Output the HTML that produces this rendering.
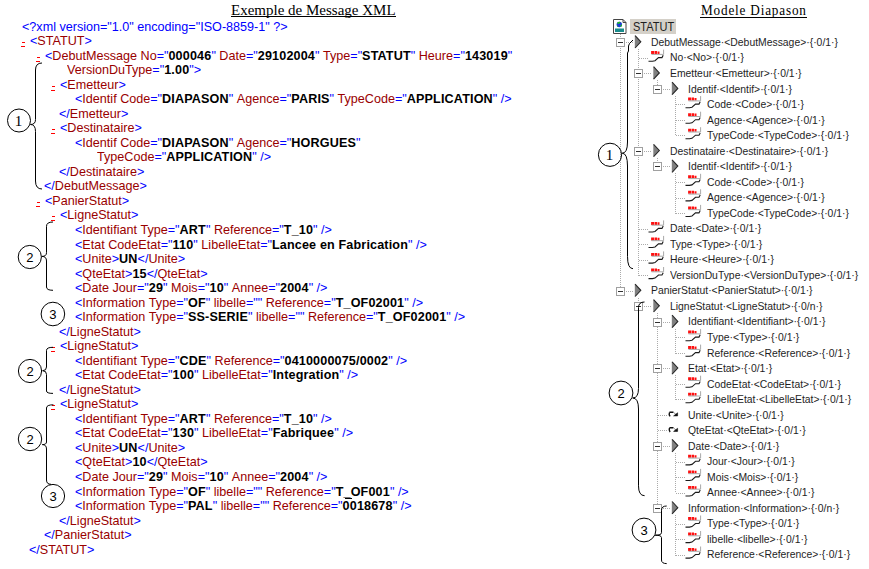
<!DOCTYPE html>
<html><head><meta charset="utf-8">
<style>
html,body{margin:0;padding:0;background:#fff;}
body{width:869px;height:569px;overflow:hidden;position:relative;font-family:"Liberation Sans",sans-serif;}
.ln{position:absolute;white-space:pre;font-size:13.4px;line-height:0;transform:scaleX(0.94);transform-origin:0 0;}
.ln span{display:inline-block;line-height:0}
.m{color:#0000ff}.t{color:#990000}.b{font-weight:bold;color:#000;letter-spacing:0.16px}.k{color:#000}
.mk{position:absolute;width:4px;height:5px;}
.mk:before{content:"";position:absolute;left:1px;top:0;width:3px;height:1px;background:#f00}
.mk:after{content:"";position:absolute;left:0;top:4px;width:4px;height:1px;background:#f00}
.title{position:absolute;font-family:"Liberation Serif",serif;font-size:15px;line-height:0;white-space:pre;}
.title u{text-decoration:none;border-bottom:1px solid #000;}
.tn{position:absolute;white-space:pre;font-size:11.8px;line-height:0;color:#1e1e1e;transform:scaleX(0.88);transform-origin:0 0;}
.sel{position:absolute;background:#d4d0c8}
svg{position:absolute;left:0;top:0}
</style></head><body>
<div class="title" style="left:231px;top:10px">Exemple de Message XML</div>
<div style="position:absolute;left:231px;top:16px;width:165px;height:1px;background:#000"></div>
<div class="title" style="left:701px;top:10px;letter-spacing:0.93px;transform:scaleX(0.88);transform-origin:0 0">Modele Diapason</div>
<div style="position:absolute;left:700px;top:17px;width:107px;height:1px;background:#000"></div>
<div class="ln" style="left:22.0px;top:26.96px"><span class="m">&lt;?xml version="1.0" encoding="ISO-8859-1" ?&gt;</span></div>
<div class="ln" style="left:30.0px;top:40.96px"><span class="m">&lt;</span><span class="t">STATUT</span><span class="m">&gt;</span></div>
<div class="mk" style="left:21px;top:42px"></div>
<div class="ln" style="left:45.0px;top:55.96px"><span class="m">&lt;</span><span class="t">DebutMessage</span><span class="k"> </span><span class="t">No</span><span class="m">="</span><span class="b">000046</span><span class="m">"</span><span class="k"> </span><span class="t">Date</span><span class="m">="</span><span class="b">29102004</span><span class="m">"</span><span class="k"> </span><span class="t">Type</span><span class="m">="</span><span class="b">STATUT</span><span class="m">"</span><span class="k"> </span><span class="t">Heure</span><span class="m">="</span><span class="b">143019</span><span class="m">"</span></div>
<div class="mk" style="left:36px;top:57px"></div>
<div class="ln" style="left:67.0px;top:69.96px"><span class="t">VersionDuType</span><span class="m">="</span><span class="b">1.00</span><span class="m">"</span><span class="m">&gt;</span></div>
<div class="ln" style="left:60.0px;top:84.96px"><span class="m">&lt;</span><span class="t">Emetteur</span><span class="m">&gt;</span></div>
<div class="mk" style="left:51px;top:86px"></div>
<div class="ln" style="left:75.0px;top:98.96px"><span class="m">&lt;</span><span class="t">Identif</span><span class="k"> </span><span class="t">Code</span><span class="m">="</span><span class="b">DIAPASON</span><span class="m">"</span><span class="k"> </span><span class="t">Agence</span><span class="m">="</span><span class="b">PARIS</span><span class="m">"</span><span class="k"> </span><span class="t">TypeCode</span><span class="m">="</span><span class="b">APPLICATION</span><span class="m">"</span><span class="k"> </span><span class="m">/&gt;</span></div>
<div class="ln" style="left:59.0px;top:113.96px"><span class="m">&lt;/</span><span class="t">Emetteur</span><span class="m">&gt;</span></div>
<div class="ln" style="left:60.0px;top:127.96px"><span class="m">&lt;</span><span class="t">Destinataire</span><span class="m">&gt;</span></div>
<div class="mk" style="left:51px;top:129px"></div>
<div class="ln" style="left:75.0px;top:142.96px"><span class="m">&lt;</span><span class="t">Identif</span><span class="k"> </span><span class="t">Code</span><span class="m">="</span><span class="b">DIAPASON</span><span class="m">"</span><span class="k"> </span><span class="t">Agence</span><span class="m">="</span><span class="b">HORGUES</span><span class="m">"</span></div>
<div class="ln" style="left:97.0px;top:156.96px"><span class="t">TypeCode</span><span class="m">="</span><span class="b">APPLICATION</span><span class="m">"</span><span class="k"> </span><span class="m">/&gt;</span></div>
<div class="ln" style="left:59.0px;top:171.96px"><span class="m">&lt;/</span><span class="t">Destinataire</span><span class="m">&gt;</span></div>
<div class="ln" style="left:44.0px;top:185.96px"><span class="m">&lt;/</span><span class="t">DebutMessage</span><span class="m">&gt;</span></div>
<div class="ln" style="left:45.0px;top:200.96px"><span class="m">&lt;</span><span class="t">PanierStatut</span><span class="m">&gt;</span></div>
<div class="mk" style="left:36px;top:202px"></div>
<div class="ln" style="left:60.0px;top:214.96px"><span class="m">&lt;</span><span class="t">LigneStatut</span><span class="m">&gt;</span></div>
<div class="mk" style="left:51px;top:216px"></div>
<div class="ln" style="left:75.0px;top:229.96px"><span class="m">&lt;</span><span class="t">Identifiant</span><span class="k"> </span><span class="t">Type</span><span class="m">="</span><span class="b">ART</span><span class="m">"</span><span class="k"> </span><span class="t">Reference</span><span class="m">="</span><span class="b">T_10</span><span class="m">"</span><span class="k"> </span><span class="m">/&gt;</span></div>
<div class="ln" style="left:75.0px;top:244.96px"><span class="m">&lt;</span><span class="t">Etat</span><span class="k"> </span><span class="t">CodeEtat</span><span class="m">="</span><span class="b">110</span><span class="m">"</span><span class="k"> </span><span class="t">LibelleEtat</span><span class="m">="</span><span class="b">Lancee en Fabrication</span><span class="m">"</span><span class="k"> </span><span class="m">/&gt;</span></div>
<div class="ln" style="left:75.0px;top:258.96px"><span class="m">&lt;</span><span class="t">Unite</span><span class="m">&gt;</span><span class="b">UN</span><span class="m">&lt;/</span><span class="t">Unite</span><span class="m">&gt;</span></div>
<div class="ln" style="left:75.0px;top:273.96px"><span class="m">&lt;</span><span class="t">QteEtat</span><span class="m">&gt;</span><span class="b">15</span><span class="m">&lt;/</span><span class="t">QteEtat</span><span class="m">&gt;</span></div>
<div class="ln" style="left:75.0px;top:287.96px"><span class="m">&lt;</span><span class="t">Date</span><span class="k"> </span><span class="t">Jour</span><span class="m">="</span><span class="b">29</span><span class="m">"</span><span class="k"> </span><span class="t">Mois</span><span class="m">="</span><span class="b">10</span><span class="m">"</span><span class="k"> </span><span class="t">Annee</span><span class="m">="</span><span class="b">2004</span><span class="m">"</span><span class="k"> </span><span class="m">/&gt;</span></div>
<div class="ln" style="left:75.0px;top:302.96px"><span class="m">&lt;</span><span class="t">Information</span><span class="k"> </span><span class="t">Type</span><span class="m">="</span><span class="b">OF</span><span class="m">"</span><span class="k"> </span><span class="t">libelle</span><span class="m">="</span><span class="m">"</span><span class="k"> </span><span class="t">Reference</span><span class="m">="</span><span class="b">T_OF02001</span><span class="m">"</span><span class="k"> </span><span class="m">/&gt;</span></div>
<div class="ln" style="left:75.0px;top:316.96px"><span class="m">&lt;</span><span class="t">Information</span><span class="k"> </span><span class="t">Type</span><span class="m">="</span><span class="b">SS-SERIE</span><span class="m">"</span><span class="k"> </span><span class="t">libelle</span><span class="m">="</span><span class="m">"</span><span class="k"> </span><span class="t">Reference</span><span class="m">="</span><span class="b">T_OF02001</span><span class="m">"</span><span class="k"> </span><span class="m">/&gt;</span></div>
<div class="ln" style="left:59.0px;top:331.96px"><span class="m">&lt;/</span><span class="t">LigneStatut</span><span class="m">&gt;</span></div>
<div class="ln" style="left:60.0px;top:345.96px"><span class="m">&lt;</span><span class="t">LigneStatut</span><span class="m">&gt;</span></div>
<div class="mk" style="left:51px;top:347px"></div>
<div class="ln" style="left:75.0px;top:360.96px"><span class="m">&lt;</span><span class="t">Identifiant</span><span class="k"> </span><span class="t">Type</span><span class="m">="</span><span class="b">CDE</span><span class="m">"</span><span class="k"> </span><span class="t">Reference</span><span class="m">="</span><span class="b">0410000075/0002</span><span class="m">"</span><span class="k"> </span><span class="m">/&gt;</span></div>
<div class="ln" style="left:75.0px;top:374.96px"><span class="m">&lt;</span><span class="t">Etat</span><span class="k"> </span><span class="t">CodeEtat</span><span class="m">="</span><span class="b">100</span><span class="m">"</span><span class="k"> </span><span class="t">LibelleEtat</span><span class="m">="</span><span class="b">Integration</span><span class="m">"</span><span class="k"> </span><span class="m">/&gt;</span></div>
<div class="ln" style="left:59.0px;top:389.96px"><span class="m">&lt;/</span><span class="t">LigneStatut</span><span class="m">&gt;</span></div>
<div class="ln" style="left:60.0px;top:403.96px"><span class="m">&lt;</span><span class="t">LigneStatut</span><span class="m">&gt;</span></div>
<div class="mk" style="left:51px;top:405px"></div>
<div class="ln" style="left:75.0px;top:418.96px"><span class="m">&lt;</span><span class="t">Identifiant</span><span class="k"> </span><span class="t">Type</span><span class="m">="</span><span class="b">ART</span><span class="m">"</span><span class="k"> </span><span class="t">Reference</span><span class="m">="</span><span class="b">T_10</span><span class="m">"</span><span class="k"> </span><span class="m">/&gt;</span></div>
<div class="ln" style="left:75.0px;top:432.96px"><span class="m">&lt;</span><span class="t">Etat</span><span class="k"> </span><span class="t">CodeEtat</span><span class="m">="</span><span class="b">130</span><span class="m">"</span><span class="k"> </span><span class="t">LibelleEtat</span><span class="m">="</span><span class="b">Fabriquee</span><span class="m">"</span><span class="k"> </span><span class="m">/&gt;</span></div>
<div class="ln" style="left:75.0px;top:447.96px"><span class="m">&lt;</span><span class="t">Unite</span><span class="m">&gt;</span><span class="b">UN</span><span class="m">&lt;/</span><span class="t">Unite</span><span class="m">&gt;</span></div>
<div class="ln" style="left:75.0px;top:461.96px"><span class="m">&lt;</span><span class="t">QteEtat</span><span class="m">&gt;</span><span class="b">10</span><span class="m">&lt;/</span><span class="t">QteEtat</span><span class="m">&gt;</span></div>
<div class="ln" style="left:75.0px;top:476.96px"><span class="m">&lt;</span><span class="t">Date</span><span class="k"> </span><span class="t">Jour</span><span class="m">="</span><span class="b">29</span><span class="m">"</span><span class="k"> </span><span class="t">Mois</span><span class="m">="</span><span class="b">10</span><span class="m">"</span><span class="k"> </span><span class="t">Annee</span><span class="m">="</span><span class="b">2004</span><span class="m">"</span><span class="k"> </span><span class="m">/&gt;</span></div>
<div class="ln" style="left:75.0px;top:491.96px"><span class="m">&lt;</span><span class="t">Information</span><span class="k"> </span><span class="t">Type</span><span class="m">="</span><span class="b">OF</span><span class="m">"</span><span class="k"> </span><span class="t">libelle</span><span class="m">="</span><span class="m">"</span><span class="k"> </span><span class="t">Reference</span><span class="m">="</span><span class="b">T_OF001</span><span class="m">"</span><span class="k"> </span><span class="m">/&gt;</span></div>
<div class="ln" style="left:75.0px;top:505.96px"><span class="m">&lt;</span><span class="t">Information</span><span class="k"> </span><span class="t">Type</span><span class="m">="</span><span class="b">PAL</span><span class="m">"</span><span class="k"> </span><span class="t">libelle</span><span class="m">="</span><span class="m">"</span><span class="k"> </span><span class="t">Reference</span><span class="m">="</span><span class="b">0018678</span><span class="m">"</span><span class="k"> </span><span class="m">/&gt;</span></div>
<div class="ln" style="left:59.0px;top:520.96px"><span class="m">&lt;/</span><span class="t">LigneStatut</span><span class="m">&gt;</span></div>
<div class="ln" style="left:44.0px;top:534.96px"><span class="m">&lt;/</span><span class="t">PanierStatut</span><span class="m">&gt;</span></div>
<div class="ln" style="left:29.0px;top:549.96px"><span class="m">&lt;/</span><span class="t">STATUT</span><span class="m">&gt;</span></div>
<div style="position:absolute;left:345px;top:498px;width:7px;height:1px;background:#000"></div>
<div class="sel" style="left:630px;top:19px;width:46px;height:15px"></div>
<div class="tn" style="left:632.5px;top:26.67px;font-size:12.5px;transform:scaleX(0.88)">STATUT</div>
<div class="tn" style="left:651.0px;top:41.94px">DebutMessage·&lt;DebutMessage&gt;·{·0/1·}</div>
<div class="tn" style="left:669.5px;top:57.47px">No·&lt;No&gt;·{·0/1·}</div>
<div class="tn" style="left:669.5px;top:73.00px">Emetteur·&lt;Emetteur&gt;·{·0/1·}</div>
<div class="tn" style="left:688.0px;top:88.53px">Identif·&lt;Identif&gt;·{·0/1·}</div>
<div class="tn" style="left:706.5px;top:104.06px">Code·&lt;Code&gt;·{·0/1·}</div>
<div class="tn" style="left:706.5px;top:119.59px">Agence·&lt;Agence&gt;·{·0/1·}</div>
<div class="tn" style="left:706.5px;top:135.12px">TypeCode·&lt;TypeCode&gt;·{·0/1·}</div>
<div class="tn" style="left:669.5px;top:150.65px">Destinataire·&lt;Destinataire&gt;·{·0/1·}</div>
<div class="tn" style="left:688.0px;top:166.18px">Identif·&lt;Identif&gt;·{·0/1·}</div>
<div class="tn" style="left:706.5px;top:181.71px">Code·&lt;Code&gt;·{·0/1·}</div>
<div class="tn" style="left:706.5px;top:197.24px">Agence·&lt;Agence&gt;·{·0/1·}</div>
<div class="tn" style="left:706.5px;top:212.77px">TypeCode·&lt;TypeCode&gt;·{·0/1·}</div>
<div class="tn" style="left:669.5px;top:228.30px">Date·&lt;Date&gt;·{·0/1·}</div>
<div class="tn" style="left:669.5px;top:243.83px">Type·&lt;Type&gt;·{·0/1·}</div>
<div class="tn" style="left:669.5px;top:259.36px">Heure·&lt;Heure&gt;·{·0/1·}</div>
<div class="tn" style="left:669.5px;top:274.89px">VersionDuType·&lt;VersionDuType&gt;·{·0/1·}</div>
<div class="tn" style="left:651.0px;top:290.42px">PanierStatut·&lt;PanierStatut&gt;·{·0/1·}</div>
<div class="tn" style="left:669.5px;top:305.95px">LigneStatut·&lt;LigneStatut&gt;·{·0/n·}</div>
<div class="tn" style="left:688.0px;top:321.48px">Identifiant·&lt;Identifiant&gt;·{·0/1·}</div>
<div class="tn" style="left:706.5px;top:337.01px">Type·&lt;Type&gt;·{·0/1·}</div>
<div class="tn" style="left:706.5px;top:352.54px">Reference·&lt;Reference&gt;·{·0/1·}</div>
<div class="tn" style="left:688.0px;top:368.07px">Etat·&lt;Etat&gt;·{·0/1·}</div>
<div class="tn" style="left:706.5px;top:383.60px">CodeEtat·&lt;CodeEtat&gt;·{·0/1·}</div>
<div class="tn" style="left:706.5px;top:399.13px">LibelleEtat·&lt;LibelleEtat&gt;·{·0/1·}</div>
<div class="tn" style="left:688.0px;top:414.66px">Unite·&lt;Unite&gt;·{·0/1·}</div>
<div class="tn" style="left:688.0px;top:430.19px">QteEtat·&lt;QteEtat&gt;·{·0/1·}</div>
<div class="tn" style="left:688.0px;top:445.72px">Date·&lt;Date&gt;·{·0/1·}</div>
<div class="tn" style="left:706.5px;top:461.25px">Jour·&lt;Jour&gt;·{·0/1·}</div>
<div class="tn" style="left:706.5px;top:476.78px">Mois·&lt;Mois&gt;·{·0/1·}</div>
<div class="tn" style="left:706.5px;top:492.31px">Annee·&lt;Annee&gt;·{·0/1·}</div>
<div class="tn" style="left:688.0px;top:507.84px">Information·&lt;Information&gt;·{·0/n·}</div>
<div class="tn" style="left:706.5px;top:523.37px">Type·&lt;Type&gt;·{·0/1·}</div>
<div class="tn" style="left:706.5px;top:538.90px">libelle·&lt;libelle&gt;·{·0/1·}</div>
<div class="tn" style="left:706.5px;top:554.43px">Reference·&lt;Reference&gt;·{·0/1·}</div>
<svg width="869" height="569" viewBox="0 0 869 569">
<g shape-rendering="crispEdges"><path d="M620.5 34V292" stroke="#ababab" stroke-dasharray="1 1"/>
<path d="M638.5 49V276" stroke="#ababab" stroke-dasharray="1 1"/>
<path d="M657.5 80V90" stroke="#ababab" stroke-dasharray="1 1"/>
<path d="M675.5 96V136" stroke="#ababab" stroke-dasharray="1 1"/>
<path d="M657.5 158V167" stroke="#ababab" stroke-dasharray="1 1"/>
<path d="M675.5 173V214" stroke="#ababab" stroke-dasharray="1 1"/>
<path d="M638.5 298V307" stroke="#ababab" stroke-dasharray="1 1"/>
<path d="M657.5 313V509" stroke="#ababab" stroke-dasharray="1 1"/>
<path d="M675.5 329V354" stroke="#ababab" stroke-dasharray="1 1"/>
<path d="M675.5 375V400" stroke="#ababab" stroke-dasharray="1 1"/>
<path d="M675.5 453V493" stroke="#ababab" stroke-dasharray="1 1"/>
<path d="M675.5 515V556" stroke="#ababab" stroke-dasharray="1 1"/>
<path d="M626 42.5H634" stroke="#ababab" stroke-dasharray="1 1"/>
<path d="M639 58.5H648" stroke="#ababab" stroke-dasharray="1 1"/>
<path d="M644 73.5H652" stroke="#ababab" stroke-dasharray="1 1"/>
<path d="M663 89.5H671" stroke="#ababab" stroke-dasharray="1 1"/>
<path d="M676 104.5H685" stroke="#ababab" stroke-dasharray="1 1"/>
<path d="M676 120.5H685" stroke="#ababab" stroke-dasharray="1 1"/>
<path d="M676 135.5H685" stroke="#ababab" stroke-dasharray="1 1"/>
<path d="M644 151.5H652" stroke="#ababab" stroke-dasharray="1 1"/>
<path d="M663 166.5H671" stroke="#ababab" stroke-dasharray="1 1"/>
<path d="M676 182.5H685" stroke="#ababab" stroke-dasharray="1 1"/>
<path d="M676 198.5H685" stroke="#ababab" stroke-dasharray="1 1"/>
<path d="M676 213.5H685" stroke="#ababab" stroke-dasharray="1 1"/>
<path d="M639 229.5H648" stroke="#ababab" stroke-dasharray="1 1"/>
<path d="M639 244.5H648" stroke="#ababab" stroke-dasharray="1 1"/>
<path d="M639 260.5H648" stroke="#ababab" stroke-dasharray="1 1"/>
<path d="M639 275.5H648" stroke="#ababab" stroke-dasharray="1 1"/>
<path d="M626 291.5H634" stroke="#ababab" stroke-dasharray="1 1"/>
<path d="M644 306.5H652" stroke="#ababab" stroke-dasharray="1 1"/>
<path d="M663 322.5H671" stroke="#ababab" stroke-dasharray="1 1"/>
<path d="M676 337.5H685" stroke="#ababab" stroke-dasharray="1 1"/>
<path d="M676 353.5H685" stroke="#ababab" stroke-dasharray="1 1"/>
<path d="M663 368.5H671" stroke="#ababab" stroke-dasharray="1 1"/>
<path d="M676 384.5H685" stroke="#ababab" stroke-dasharray="1 1"/>
<path d="M676 399.5H685" stroke="#ababab" stroke-dasharray="1 1"/>
<path d="M658 415.5H667" stroke="#ababab" stroke-dasharray="1 1"/>
<path d="M658 430.5H667" stroke="#ababab" stroke-dasharray="1 1"/>
<path d="M663 446.5H671" stroke="#ababab" stroke-dasharray="1 1"/>
<path d="M676 462.5H685" stroke="#ababab" stroke-dasharray="1 1"/>
<path d="M676 477.5H685" stroke="#ababab" stroke-dasharray="1 1"/>
<path d="M676 493.5H685" stroke="#ababab" stroke-dasharray="1 1"/>
<path d="M663 508.5H671" stroke="#ababab" stroke-dasharray="1 1"/>
<path d="M676 524.5H685" stroke="#ababab" stroke-dasharray="1 1"/>
<path d="M676 539.5H685" stroke="#ababab" stroke-dasharray="1 1"/>
<path d="M676 555.5H685" stroke="#ababab" stroke-dasharray="1 1"/></g>
<path d="M613.5 19.5 h9.5 l3 3 v11 h-12.5 z" fill="#fff" stroke="#444" stroke-width="1"/>
<path d="M623 19.5 v3 h3" fill="none" stroke="#444"/>
<rect x="615" y="28.5" width="9" height="3.5" fill="#1a8c8c"/>
<circle cx="619.3" cy="24.5" r="2.7" fill="#1e3cd8"/>
<path d="M617 23 q1.5 -1.6 3.5 -1 l-1 1.6 l-1.5 0.5 z M620.6 25 l1.3 -0.5 l0.2 1.6 l-1.5 1 z M617 25 l1.2 1.5 l-0.8 0.6 z" fill="#22c022"/>
<rect x="616.5" y="38.5" width="8" height="8" fill="#fff" stroke="#a0a0a0"/>
<path d="M618 42.5H623" stroke="#303030"/>
<path d="M634.8 35.3 L641.2 41.8 L634.8 48.3 Z" fill="#808080" stroke="none"/>
<path d="M635.1 35.6 L640.8 41.8 L635.1 48.0" fill="none" stroke="#2a2a2a" stroke-width="1.1"/>
<path d="M651.1 51.1h3.4v3h-3.4zM655.0 51.1h2v3h-2zM657.5 51.5h2v2.6h-2z" fill="#ff1010"/>
<path d="M651.5 54.4H663.6V49.6" fill="none" stroke="#a8a8a8" stroke-width="1"/>
<path d="M663.2 55.3 L662.0 57.6 L658.5 57.6 L655.0 60.7 L652.5 61.2 L648.5 61.2" fill="none" stroke="#1a1a1a" stroke-width="1.1"/>
<rect x="634.5" y="69.5" width="8" height="8" fill="#fff" stroke="#a0a0a0"/>
<path d="M636 73.5H641" stroke="#303030"/>
<path d="M653.3 66.4 L659.7 72.9 L653.3 79.4 Z" fill="#808080" stroke="none"/>
<path d="M653.6 66.7 L659.3 72.9 L653.6 79.1" fill="none" stroke="#2a2a2a" stroke-width="1.1"/>
<rect x="653.5" y="85.5" width="8" height="8" fill="#fff" stroke="#a0a0a0"/>
<path d="M655 89.5H660" stroke="#303030"/>
<path d="M671.8 81.9 L678.2 88.4 L671.8 94.9 Z" fill="#808080" stroke="none"/>
<path d="M672.1 82.2 L677.8 88.4 L672.1 94.6" fill="none" stroke="#2a2a2a" stroke-width="1.1"/>
<path d="M688.1 97.6h3.4v3h-3.4zM692.0 97.6h2v3h-2zM694.5 98.0h2v2.6h-2z" fill="#ff1010"/>
<path d="M688.5 100.9H700.6V96.1" fill="none" stroke="#a8a8a8" stroke-width="1"/>
<path d="M700.2 101.8 L699.0 104.1 L695.5 104.1 L692.0 107.2 L689.5 107.7 L685.5 107.7" fill="none" stroke="#1a1a1a" stroke-width="1.1"/>
<path d="M688.1 113.2h3.4v3h-3.4zM692.0 113.2h2v3h-2zM694.5 113.6h2v2.6h-2z" fill="#ff1010"/>
<path d="M688.5 116.5H700.6V111.7" fill="none" stroke="#a8a8a8" stroke-width="1"/>
<path d="M700.2 117.4 L699.0 119.7 L695.5 119.7 L692.0 122.8 L689.5 123.3 L685.5 123.3" fill="none" stroke="#1a1a1a" stroke-width="1.1"/>
<path d="M688.1 128.7h3.4v3h-3.4zM692.0 128.7h2v3h-2zM694.5 129.1h2v2.6h-2z" fill="#ff1010"/>
<path d="M688.5 132.0H700.6V127.2" fill="none" stroke="#a8a8a8" stroke-width="1"/>
<path d="M700.2 132.9 L699.0 135.2 L695.5 135.2 L692.0 138.3 L689.5 138.8 L685.5 138.8" fill="none" stroke="#1a1a1a" stroke-width="1.1"/>
<rect x="634.5" y="147.5" width="8" height="8" fill="#fff" stroke="#a0a0a0"/>
<path d="M636 151.5H641" stroke="#303030"/>
<path d="M653.3 144.0 L659.7 150.5 L653.3 157.0 Z" fill="#808080" stroke="none"/>
<path d="M653.6 144.3 L659.3 150.5 L653.6 156.7" fill="none" stroke="#2a2a2a" stroke-width="1.1"/>
<rect x="653.5" y="162.5" width="8" height="8" fill="#fff" stroke="#a0a0a0"/>
<path d="M655 166.5H660" stroke="#303030"/>
<path d="M671.8 159.6 L678.2 166.1 L671.8 172.6 Z" fill="#808080" stroke="none"/>
<path d="M672.1 159.9 L677.8 166.1 L672.1 172.3" fill="none" stroke="#2a2a2a" stroke-width="1.1"/>
<path d="M688.1 175.3h3.4v3h-3.4zM692.0 175.3h2v3h-2zM694.5 175.7h2v2.6h-2z" fill="#ff1010"/>
<path d="M688.5 178.6H700.6V173.8" fill="none" stroke="#a8a8a8" stroke-width="1"/>
<path d="M700.2 179.5 L699.0 181.8 L695.5 181.8 L692.0 184.9 L689.5 185.4 L685.5 185.4" fill="none" stroke="#1a1a1a" stroke-width="1.1"/>
<path d="M688.1 190.8h3.4v3h-3.4zM692.0 190.8h2v3h-2zM694.5 191.2h2v2.6h-2z" fill="#ff1010"/>
<path d="M688.5 194.1H700.6V189.3" fill="none" stroke="#a8a8a8" stroke-width="1"/>
<path d="M700.2 195.0 L699.0 197.3 L695.5 197.3 L692.0 200.4 L689.5 200.9 L685.5 200.9" fill="none" stroke="#1a1a1a" stroke-width="1.1"/>
<path d="M688.1 206.4h3.4v3h-3.4zM692.0 206.4h2v3h-2zM694.5 206.8h2v2.6h-2z" fill="#ff1010"/>
<path d="M688.5 209.7H700.6V204.9" fill="none" stroke="#a8a8a8" stroke-width="1"/>
<path d="M700.2 210.6 L699.0 212.9 L695.5 212.9 L692.0 216.0 L689.5 216.5 L685.5 216.5" fill="none" stroke="#1a1a1a" stroke-width="1.1"/>
<path d="M651.1 221.9h3.4v3h-3.4zM655.0 221.9h2v3h-2zM657.5 222.3h2v2.6h-2z" fill="#ff1010"/>
<path d="M651.5 225.2H663.6V220.4" fill="none" stroke="#a8a8a8" stroke-width="1"/>
<path d="M663.2 226.1 L662.0 228.4 L658.5 228.4 L655.0 231.5 L652.5 232.0 L648.5 232.0" fill="none" stroke="#1a1a1a" stroke-width="1.1"/>
<path d="M651.1 237.4h3.4v3h-3.4zM655.0 237.4h2v3h-2zM657.5 237.8h2v2.6h-2z" fill="#ff1010"/>
<path d="M651.5 240.7H663.6V235.9" fill="none" stroke="#a8a8a8" stroke-width="1"/>
<path d="M663.2 241.6 L662.0 243.9 L658.5 243.9 L655.0 247.0 L652.5 247.5 L648.5 247.5" fill="none" stroke="#1a1a1a" stroke-width="1.1"/>
<path d="M651.1 252.9h3.4v3h-3.4zM655.0 252.9h2v3h-2zM657.5 253.3h2v2.6h-2z" fill="#ff1010"/>
<path d="M651.5 256.2H663.6V251.4" fill="none" stroke="#a8a8a8" stroke-width="1"/>
<path d="M663.2 257.1 L662.0 259.4 L658.5 259.4 L655.0 262.6 L652.5 263.1 L648.5 263.1" fill="none" stroke="#1a1a1a" stroke-width="1.1"/>
<path d="M651.1 268.5h3.4v3h-3.4zM655.0 268.5h2v3h-2zM657.5 268.9h2v2.6h-2z" fill="#ff1010"/>
<path d="M651.5 271.8H663.6V267.0" fill="none" stroke="#a8a8a8" stroke-width="1"/>
<path d="M663.2 272.7 L662.0 275.0 L658.5 275.0 L655.0 278.1 L652.5 278.6 L648.5 278.6" fill="none" stroke="#1a1a1a" stroke-width="1.1"/>
<rect x="616.5" y="287.5" width="8" height="8" fill="#fff" stroke="#a0a0a0"/>
<path d="M618 291.5H623" stroke="#303030"/>
<path d="M634.8 283.8 L641.2 290.3 L634.8 296.8 Z" fill="#808080" stroke="none"/>
<path d="M635.1 284.1 L640.8 290.3 L635.1 296.5" fill="none" stroke="#2a2a2a" stroke-width="1.1"/>
<rect x="634.5" y="302.5" width="8" height="8" fill="#fff" stroke="#a0a0a0"/>
<path d="M636 306.5H641" stroke="#303030"/>
<path d="M653.3 299.3 L659.7 305.8 L653.3 312.3 Z" fill="#808080" stroke="none"/>
<path d="M653.6 299.6 L659.3 305.8 L653.6 312.0" fill="none" stroke="#2a2a2a" stroke-width="1.1"/>
<rect x="653.5" y="318.5" width="8" height="8" fill="#fff" stroke="#a0a0a0"/>
<path d="M655 322.5H660" stroke="#303030"/>
<path d="M671.8 314.9 L678.2 321.4 L671.8 327.9 Z" fill="#808080" stroke="none"/>
<path d="M672.1 315.2 L677.8 321.4 L672.1 327.6" fill="none" stroke="#2a2a2a" stroke-width="1.1"/>
<path d="M688.1 330.6h3.4v3h-3.4zM692.0 330.6h2v3h-2zM694.5 331.0h2v2.6h-2z" fill="#ff1010"/>
<path d="M688.5 333.9H700.6V329.1" fill="none" stroke="#a8a8a8" stroke-width="1"/>
<path d="M700.2 334.8 L699.0 337.1 L695.5 337.1 L692.0 340.2 L689.5 340.7 L685.5 340.7" fill="none" stroke="#1a1a1a" stroke-width="1.1"/>
<path d="M688.1 346.1h3.4v3h-3.4zM692.0 346.1h2v3h-2zM694.5 346.5h2v2.6h-2z" fill="#ff1010"/>
<path d="M688.5 349.4H700.6V344.6" fill="none" stroke="#a8a8a8" stroke-width="1"/>
<path d="M700.2 350.3 L699.0 352.6 L695.5 352.6 L692.0 355.7 L689.5 356.2 L685.5 356.2" fill="none" stroke="#1a1a1a" stroke-width="1.1"/>
<rect x="653.5" y="364.5" width="8" height="8" fill="#fff" stroke="#a0a0a0"/>
<path d="M655 368.5H660" stroke="#303030"/>
<path d="M671.8 361.5 L678.2 368.0 L671.8 374.5 Z" fill="#808080" stroke="none"/>
<path d="M672.1 361.8 L677.8 368.0 L672.1 374.2" fill="none" stroke="#2a2a2a" stroke-width="1.1"/>
<path d="M688.1 377.2h3.4v3h-3.4zM692.0 377.2h2v3h-2zM694.5 377.6h2v2.6h-2z" fill="#ff1010"/>
<path d="M688.5 380.5H700.6V375.7" fill="none" stroke="#a8a8a8" stroke-width="1"/>
<path d="M700.2 381.4 L699.0 383.7 L695.5 383.7 L692.0 386.8 L689.5 387.3 L685.5 387.3" fill="none" stroke="#1a1a1a" stroke-width="1.1"/>
<path d="M688.1 392.7h3.4v3h-3.4zM692.0 392.7h2v3h-2zM694.5 393.1h2v2.6h-2z" fill="#ff1010"/>
<path d="M688.5 396.0H700.6V391.2" fill="none" stroke="#a8a8a8" stroke-width="1"/>
<path d="M700.2 396.9 L699.0 399.2 L695.5 399.2 L692.0 402.3 L689.5 402.8 L685.5 402.8" fill="none" stroke="#1a1a1a" stroke-width="1.1"/>
<path d="M670.1 416.4 Q668.7 414.6 669.4 412.8 M669.4 412.3 H673.5" fill="none" stroke="#111" stroke-width="1.4"/>
<path d="M677.6 412.8 L677.6 415.9 L673.6 415.9 Z M674.2 412.9 L676.5 415.2" fill="#111" stroke="#111" stroke-width="0.6"/>
<path d="M670.1 432.0 Q668.7 430.1 669.4 428.3 M669.4 427.8 H673.5" fill="none" stroke="#111" stroke-width="1.4"/>
<path d="M677.6 428.3 L677.6 431.4 L673.6 431.4 Z M674.2 428.5 L676.5 430.8" fill="#111" stroke="#111" stroke-width="0.6"/>
<rect x="653.5" y="442.5" width="8" height="8" fill="#fff" stroke="#a0a0a0"/>
<path d="M655 446.5H660" stroke="#303030"/>
<path d="M671.8 439.1 L678.2 445.6 L671.8 452.1 Z" fill="#808080" stroke="none"/>
<path d="M672.1 439.4 L677.8 445.6 L672.1 451.8" fill="none" stroke="#2a2a2a" stroke-width="1.1"/>
<path d="M688.1 454.8h3.4v3h-3.4zM692.0 454.8h2v3h-2zM694.5 455.2h2v2.6h-2z" fill="#ff1010"/>
<path d="M688.5 458.1H700.6V453.3" fill="none" stroke="#a8a8a8" stroke-width="1"/>
<path d="M700.2 459.0 L699.0 461.3 L695.5 461.3 L692.0 464.4 L689.5 464.9 L685.5 464.9" fill="none" stroke="#1a1a1a" stroke-width="1.1"/>
<path d="M688.1 470.4h3.4v3h-3.4zM692.0 470.4h2v3h-2zM694.5 470.8h2v2.6h-2z" fill="#ff1010"/>
<path d="M688.5 473.7H700.6V468.9" fill="none" stroke="#a8a8a8" stroke-width="1"/>
<path d="M700.2 474.6 L699.0 476.9 L695.5 476.9 L692.0 480.0 L689.5 480.5 L685.5 480.5" fill="none" stroke="#1a1a1a" stroke-width="1.1"/>
<path d="M688.1 485.9h3.4v3h-3.4zM692.0 485.9h2v3h-2zM694.5 486.3h2v2.6h-2z" fill="#ff1010"/>
<path d="M688.5 489.2H700.6V484.4" fill="none" stroke="#a8a8a8" stroke-width="1"/>
<path d="M700.2 490.1 L699.0 492.4 L695.5 492.4 L692.0 495.5 L689.5 496.0 L685.5 496.0" fill="none" stroke="#1a1a1a" stroke-width="1.1"/>
<rect x="653.5" y="504.5" width="8" height="8" fill="#fff" stroke="#a0a0a0"/>
<path d="M655 508.5H660" stroke="#303030"/>
<path d="M671.8 501.2 L678.2 507.7 L671.8 514.2 Z" fill="#808080" stroke="none"/>
<path d="M672.1 501.5 L677.8 507.7 L672.1 513.9" fill="none" stroke="#2a2a2a" stroke-width="1.1"/>
<path d="M688.1 517.0h3.4v3h-3.4zM692.0 517.0h2v3h-2zM694.5 517.4h2v2.6h-2z" fill="#ff1010"/>
<path d="M688.5 520.3H700.6V515.5" fill="none" stroke="#a8a8a8" stroke-width="1"/>
<path d="M700.2 521.2 L699.0 523.5 L695.5 523.5 L692.0 526.6 L689.5 527.1 L685.5 527.1" fill="none" stroke="#1a1a1a" stroke-width="1.1"/>
<path d="M688.1 532.5h3.4v3h-3.4zM692.0 532.5h2v3h-2zM694.5 532.9h2v2.6h-2z" fill="#ff1010"/>
<path d="M688.5 535.8H700.6V531.0" fill="none" stroke="#a8a8a8" stroke-width="1"/>
<path d="M700.2 536.7 L699.0 539.0 L695.5 539.0 L692.0 542.1 L689.5 542.6 L685.5 542.6" fill="none" stroke="#1a1a1a" stroke-width="1.1"/>
<path d="M688.1 548.0h3.4v3h-3.4zM692.0 548.0h2v3h-2zM694.5 548.4h2v2.6h-2z" fill="#ff1010"/>
<path d="M688.5 551.3H700.6V546.5" fill="none" stroke="#a8a8a8" stroke-width="1"/>
<path d="M700.2 552.2 L699.0 554.5 L695.5 554.5 L692.0 557.6 L689.5 558.1 L685.5 558.1" fill="none" stroke="#1a1a1a" stroke-width="1.1"/>
<path d="M42.0 63.0 Q35.5 63.0 35.5 70.0 L35.5 119.5 Q35.5 124.5 30.5 124.5 Q35.5 124.5 35.5 131.5 L35.5 181.0 Q35.5 189.0 42.0 189.0" fill="none" stroke="#000" stroke-width="1.00"/>
<ellipse cx="19.0" cy="120.5" rx="11.5" ry="11.5" fill="none" stroke="#000" stroke-width="1.0"/>
<text x="18.5" y="125.7" font-family="Liberation Serif" font-size="15" text-anchor="middle" fill="#000">1</text>
<path d="M53.0 222.0 Q46.5 222.0 46.5 226.3 L46.5 252.7 Q46.5 256.4 42.0 256.4 Q46.5 256.4 46.5 261.0 L46.5 287.0 Q46.5 290.3 53.0 290.3" fill="none" stroke="#000" stroke-width="1.00"/>
<ellipse cx="29.8" cy="257.0" rx="11.6" ry="11.6" fill="none" stroke="#000" stroke-width="1.0"/>
<text x="29.8" y="261.6" font-family="Liberation Sans" font-size="13" text-anchor="middle" fill="#000">2</text>
<ellipse cx="52.9" cy="314.0" rx="11.8" ry="11.8" fill="none" stroke="#000" stroke-width="1.0"/>
<text x="52.9" y="318.6" font-family="Liberation Sans" font-size="13" text-anchor="middle" fill="#000">3</text>
<path d="M53.0 347.3 Q46.5 347.3 46.5 350.4 L46.5 367.0 Q46.5 370.7 42.6 370.7 Q46.5 370.7 46.5 374.4 L46.5 391.0 Q46.5 393.4 53.0 393.4" fill="none" stroke="#000" stroke-width="1.00"/>
<ellipse cx="30.0" cy="371.0" rx="11.6" ry="11.6" fill="none" stroke="#000" stroke-width="1.0"/>
<text x="30.0" y="375.6" font-family="Liberation Sans" font-size="13" text-anchor="middle" fill="#000">2</text>
<path d="M53.4 404.8 Q46.5 404.8 46.5 408.0 L46.5 442.0 Q46.5 444.6 42.3 444.6 Q46.5 444.6 46.5 449.0 L46.5 480.0 Q46.5 484.3 51.0 484.3" fill="none" stroke="#000" stroke-width="1.00"/>
<ellipse cx="30.0" cy="439.0" rx="11.7" ry="11.7" fill="none" stroke="#000" stroke-width="1.0"/>
<text x="30.0" y="443.6" font-family="Liberation Sans" font-size="13" text-anchor="middle" fill="#000">2</text>
<ellipse cx="53.0" cy="496.0" rx="11.6" ry="11.6" fill="none" stroke="#000" stroke-width="1.0"/>
<text x="53.0" y="500.6" font-family="Liberation Sans" font-size="13" text-anchor="middle" fill="#000">3</text>
<path d="M633 40 L629.5 43.5 L628.5 46 L628.5 51 L627.5 53 L627.5 142 Q627.5 153.2 622.2 153.2 Q627.5 153.2 627.5 166 L627.5 256.4 Q627.5 268.7 633 268.7" fill="none" stroke="#000" stroke-width="1.00"/>
<ellipse cx="610.0" cy="154.8" rx="11.6" ry="11.6" fill="none" stroke="#000" stroke-width="1.0"/>
<text x="609.5" y="160.0" font-family="Liberation Serif" font-size="15" text-anchor="middle" fill="#000">1</text>
<path d="M644.5 302.0 Q638.5 302.0 638.5 307.6 L638.5 388.5 Q638.5 398.0 632.7 398.0 Q638.5 398.0 638.5 409.0 L638.5 485.8 Q638.5 495.7 644.6 495.7" fill="none" stroke="#000" stroke-width="1.00"/>
<ellipse cx="621.0" cy="393.0" rx="11.9" ry="11.9" fill="none" stroke="#000" stroke-width="1.0"/>
<text x="621.0" y="397.6" font-family="Liberation Sans" font-size="13" text-anchor="middle" fill="#000">2</text>
<path d="M666.7 506.0 Q661.5 506.0 661.5 510.3 L661.5 532.7 Q661.5 535.2 655.2 535.2 Q661.5 535.2 661.5 537.6 L661.5 560.0 Q661.5 563.6 666.7 563.6" fill="none" stroke="#000" stroke-width="1.00"/>
<ellipse cx="644.0" cy="530.0" rx="11.9" ry="11.9" fill="none" stroke="#000" stroke-width="1.0"/>
<text x="644.0" y="534.6" font-family="Liberation Sans" font-size="13" text-anchor="middle" fill="#000">3</text>
</svg>
</body></html>
